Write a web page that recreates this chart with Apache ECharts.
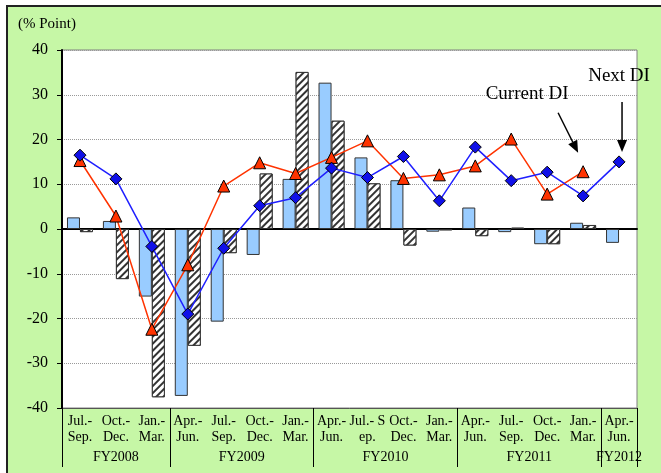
<!DOCTYPE html>
<html>
<head>
<meta charset="utf-8">
<script src="https://cdn.jsdelivr.net/npm/echarts@6/dist/echarts.min.js"></script>
<style>
html, body { margin: 0; padding: 0; background: #fff; }
#chart { width: 661px; height: 473px; }
</style>
</head>
<body>
<div id="chart"></div>
<script>
// quarter labels (one per bar pair)
var quarters = ['Jul.-\nSep.', 'Oct.-\nDec.', 'Jan.-\nMar.',
    'Apr.-\nJun.', 'Jul.-\nSep.', 'Oct.-\nDec.', 'Jan.-\nMar.',
    'Apr.-\nJun.', 'Jul.- S\nep.', 'Oct.-\nDec.', 'Jan.-\nMar.',
    'Apr.-\nJun.', 'Jul.-\nSep.', 'Oct.-\nDec.', 'Jan.-\nMar.',
    'Apr.-\nJun.'];
var fiscal_years = ['FY2008', 'FY2009', 'FY2010', 'FY2011', 'FY2012'];
var fy_centers = [1.5, 5, 9, 13, 15.5];
var fy_bounds = [0, 3, 7, 11, 15, 16];
var y_ticks = [-40, 40, 10];

var bar_blue = [2.6, 1.8, -15.1, -37.3, -20.7, -5.8, 11.2, 32.7, 16.0, 10.9, -0.6, 4.8, -0.7, -3.4, 1.4, -3.1];
var bar_hatch = [-0.7, -11.2, -37.6, -26.1, -5.4, 12.4, 35.1, 24.2, 10.2, -3.7, -0.3, -1.6, 0.3, -3.4, 0.9, null];
var current_di = [15.3, 2.9, -22.4, -8.0, 9.6, 14.8, 12.4, 16.0, 19.7, 11.3, 12.1, 14.1, 20.1, 7.8, 12.8, null];
var next_di = [16.5, 11.2, -3.9, -19.0, -4.3, 5.2, 7.0, 13.6, 11.5, 16.2, 6.3, 18.3, 10.8, 12.7, 7.4, 15.0];

var serif = 'Liberation Serif';
var chart = echarts.init(document.getElementById('chart'));

var option = {
    animation: false,
    backgroundColor: '#fff',
    title: {
        text: '(% Point)',
        left: 13,
        top: 12,
        textStyle: { fontFamily: serif, fontSize: 15, fontWeight: 'normal', color: '#000' }
    },
    grid: {
        left: 62, right: 24, top: 50, bottom: 65,
        show: true,
        backgroundColor: '#fff',
        borderColor: '#808080',
        borderWidth: 1
    },
    xAxis: [
        {   // quarter labels along the bottom
            type: 'category',
            data: quarters,
            position: 'bottom',
            axisLine: { onZero: false, lineStyle: { color: '#555', width: 1 } },
            axisTick: { length: 36, lineStyle: { color: '#000' } },
            axisLabel: { interval: 0, margin: 5, color: '#000', fontFamily: serif, fontSize: 14, lineHeight: 16 },
            splitLine: { show: false }
        },
        {   // zero line
            type: 'category',
            data: quarters,
            position: 'bottom',
            axisLine: { onZero: true, lineStyle: { color: '#000', width: 2 } },
            axisTick: { inside: true, length: 4, lineStyle: { color: '#000' } },
            axisLabel: { show: false },
            splitLine: { show: false }
        },
        {   // fiscal year groups
            type: 'value',
            min: 0,
            max: 16,
            position: 'bottom',
            axisLine: { show: false, onZero: false },
            splitLine: { show: false },
            axisTick: { length: 59, customValues: fy_bounds, lineStyle: { color: '#000' } },
            axisLabel: {
                customValues: fy_centers,
                margin: 42,
                color: '#000', fontFamily: serif, fontSize: 14,
                formatter: function (v) {
                    var i = fy_centers.indexOf(v);
                    return i >= 0 ? fiscal_years[i] : '';
                }
            }
        }
    ],
    yAxis: {
        type: 'value',
        min: y_ticks[0],
        max: y_ticks[1],
        interval: y_ticks[2],
        axisLine: { show: true, onZero: false, lineStyle: { color: '#000', width: 2 } },
        axisTick: { show: true, length: 5, lineStyle: { color: '#000' } },
        axisLabel: { margin: 14, color: '#000', fontFamily: serif, fontSize: 16 },
        splitLine: { lineStyle: { color: '#999', type: 'dotted' } }
    },
    series: [
        {
            type: 'bar',
            data: bar_blue,
            barWidth: 13,
            barGap: '0%',
            itemStyle: { color: '#99ccff', borderColor: '#333', borderWidth: 1 }
        },
        {
            type: 'bar',
            data: bar_hatch,
            barWidth: 13,
            itemStyle: {
                color: '#fff', borderColor: '#333', borderWidth: 1,
                decal: {
                    symbol: 'rect', symbolSize: 1,
                    dashArrayX: [1, 0], dashArrayY: [2, 3],
                    rotation: -Math.PI / 4,
                    color: '#333', backgroundColor: '#fff'
                }
            }
        },
        {
            name: 'Current DI',
            type: 'line',
            data: current_di,
            symbol: 'triangle',
            symbolSize: 12,
            lineStyle: { color: '#ff3300', width: 1.5 },
            itemStyle: { color: '#ff3300', borderColor: '#000', borderWidth: 1 }
        },
        {
            name: 'Next DI',
            type: 'line',
            data: next_di,
            symbol: 'diamond',
            symbolSize: 12,
            lineStyle: { color: '#1f1fff', width: 1.5 },
            itemStyle: { color: '#1010e8', borderColor: '#000', borderWidth: 1 }
        }
    ]
};
chart.setOption(option);

function arrow(from, to) {
    var dx = to[0] - from[0], dy = to[1] - from[1];
    var len = Math.sqrt(dx * dx + dy * dy);
    var ux = dx / len, uy = dy / len, hl = 12, hw = 5;
    var bx = to[0] - ux * hl, by = to[1] - uy * hl;
    return [
        { type: 'line', shape: { x1: from[0], y1: from[1], x2: bx, y2: by }, style: { stroke: '#000', lineWidth: 1.5 } },
        { type: 'polygon', shape: { points: [[to[0], to[1]], [bx - uy * hw, by + ux * hw], [bx + uy * hw, by - ux * hw]] }, style: { fill: '#000' } }
    ];
}

// annotations anchored on the last points of each DI line
var pc = chart.convertToPixel({ xAxisIndex: 0, yAxisIndex: 0 }, [14, current_di[14]]);
var pn = chart.convertToPixel({ xAxisIndex: 0, yAxisIndex: 0 }, [15, next_di[15]]);
var labelFont = { fontFamily: serif, fontSize: 19, fill: '#000' };

var elements = [
    { type: 'rect', z: -100, shape: { x: 7, y: 6, width: 700, height: 500 }, style: { fill: '#c6f7a6', stroke: '#222', lineWidth: 2 } },
    { type: 'text', x: pc[0] - 56, y: pc[1] - 78, style: Object.assign({ text: 'Current DI', align: 'center', verticalAlign: 'middle' }, labelFont) },
    { type: 'text', x: pn[0], y: pn[1] - 86, style: Object.assign({ text: 'Next DI', align: 'center', verticalAlign: 'middle' }, labelFont) }
];
elements = elements.concat(arrow([pc[0] - 25, pc[1] - 59], [pc[0] - 5, pc[1] - 19]));
elements = elements.concat(arrow([pn[0] + 3, pn[1] - 60], [pn[0] + 3, pn[1] - 10]));

chart.setOption({ graphic: { elements: elements } });
</script>
</body>
</html>
